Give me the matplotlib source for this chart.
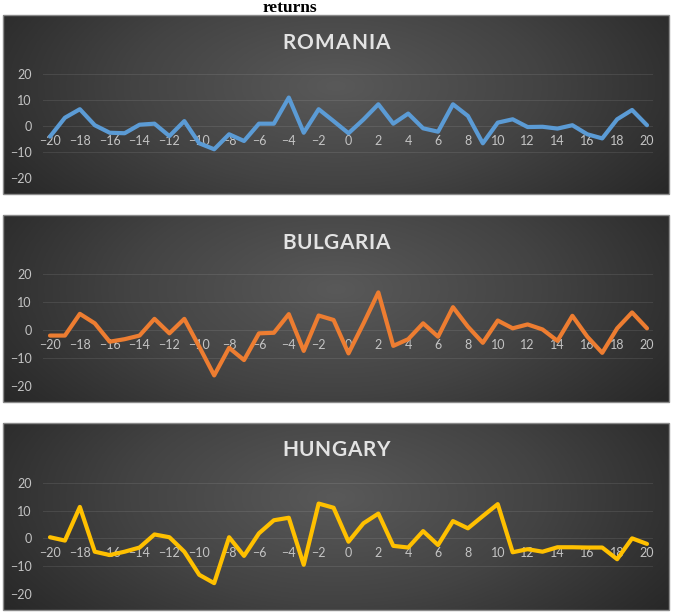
import numpy as np
import matplotlib.pyplot as plt
from matplotlib.colors import LinearSegmentedColormap
from matplotlib.patches import Rectangle

# ---------------- data ----------------
x_vals = list(range(-20, 21))
romania = [-4.1, 3.2, 6.5, 0.3, -2.6, -2.8, 0.5, 0.9, -3.9, 1.9,
           -6.7, -9.0, -3.2, -5.8, 0.9, 0.9, 11.0, -2.6, 6.5, 1.9,
           -2.8, 2.5, 8.4, 0.9, 4.8, -0.9, -2.2, 8.4, 3.9, -6.7,
           1.3, 2.6, -0.4, -0.3, -1.0, 0.3, -3.2, -4.8, 2.6, 6.2, 0.3]
bulgaria = [-2.0, -2.0, 5.8, 2.4, -4.2, -3.3, -2.0, 4.0, -1.2, 4.0,
            -6.0, -16.3, -6.4, -10.8, -1.2, -1.0, 5.7, -7.5, 5.2, 3.6,
            -8.4, 2.3, 13.5, -5.7, -3.3, 2.4, -2.4, 8.2, 1.2, -4.6,
            3.4, 0.6, 2.0, 0.2, -3.9, 5.1, -2.4, -8.2, 0.6, 6.3, 0.6]
hungary = [0.4, -0.8, 11.3, -4.8, -6.0, -4.8, -3.3, 1.4, 0.4, -4.8,
           -13.1, -16.1, 0.4, -6.3, 1.8, 6.5, 7.4, -9.5, 12.5, 11.0,
           -1.2, 5.4, 8.9, -2.7, -3.3, 2.6, -2.4, 6.2, 3.6, 8.0,
           12.3, -5.0, -3.9, -4.8, -3.2, -3.2, -3.3, -3.3, -7.5, 0.0, -2.0]
series = [romania, bulgaria, hungary]
titles = ['ROMANIA', 'BULGARIA', 'HUNGARY']
line_colors = ['#5B9BD5', '#ED7D31', '#FFC000']
xticks = list(range(-20, 21, 2))
yticks = [-20, -10, 0, 10, 20]
main_title = 'returns'

# ---------------- layout (pixels) ----------------
W, H = 674, 614
fig = plt.figure(figsize=(W / 100, H / 100), dpi=100)
fig.patch.set_facecolor('white')


def fx(px):
    return px / W


def fy(py):
    return 1 - py / H


# panel top, panel bottom, plot top, plot bottom, title centre y
panels = [(15, 194, 74.3, 177.7, 43.0),
          (215, 402, 274.3, 385.7, 243.0),
          (423, 610, 482.7, 594.0, 450.0)]
pan_left, pan_right = 3, 669
plot_left, plot_right = 43, 653
x_first_px, x_last_px = 50, 647

cmap = LinearSegmentedColormap.from_list('bg', ['#595959', '#434343', '#262626'])

for i, (ptop, pbot, gtop, gbot, ty) in enumerate(panels):
    # background with radial gradient
    bg = fig.add_axes([fx(pan_left), fy(pbot), (pan_right - pan_left) / W, (pbot - ptop) / H])
    bg.set_zorder(0)
    ny, nx = 200, 600
    yy, xx = np.mgrid[0:1:ny * 1j, 0:1:nx * 1j]
    r = np.sqrt(((xx - 0.5) / 0.62) ** 2 + ((yy - 0.6) / 1.1) ** 2)
    r = np.clip(r, 0, 1)
    bg.imshow(r, cmap=cmap, extent=[0, 1, 0, 1], aspect='auto', origin='lower',
              vmin=0, vmax=1, interpolation='bilinear')
    bg.add_patch(Rectangle((0, 0), 1, 1, transform=bg.transAxes, fill=False,
                           edgecolor='#8a8a8a', linewidth=1.0, clip_on=False))
    bg.set_xlim(0, 1)
    bg.set_ylim(0, 1)
    bg.axis('off')

    # plot axes
    ax = fig.add_axes([fx(plot_left), fy(gbot), (plot_right - plot_left) / W, (gbot - gtop) / H])
    ax.set_zorder(1)
    ax.patch.set_alpha(0)
    scale = (x_last_px - x_first_px) / 40.0
    ax.set_xlim(-20 - (x_first_px - plot_left) / scale, 20 + (plot_right - x_last_px) / scale)
    ax.set_ylim(-20, 20)
    ax.set_yticks(yticks)
    ax.set_xticks(xticks)
    ax.grid(axis='y', color='#ffffff', alpha=0.09, linewidth=0.8)
    ax.set_axisbelow(True)
    for s in ['top', 'right', 'left']:
        ax.spines[s].set_visible(False)
    ax.spines['bottom'].set_position(('data', 0))
    ax.spines['bottom'].set_color('none')
    ax.tick_params(axis='both', length=0, labelsize=9, labelcolor='#c4c4c4')
    ax.tick_params(axis='y', pad=8)
    ax.tick_params(axis='x', pad=6.5)
    for lab in ax.get_xticklabels() + ax.get_yticklabels():
        lab.set_family(['Lato', 'DejaVu Sans'])
    ax.plot(x_vals, series[i], color=line_colors[i], linewidth=3.0,
            solid_joinstyle='round', solid_capstyle='round', zorder=3, clip_on=False)

    # spaced title
    renderer = fig.canvas.get_renderer()
    kw = dict(fontsize=15, fontweight='bold', color='#e3e3e3', family=['Lato', 'DejaVu Sans'])
    widths = []
    for ch in titles[i]:
        t = fig.text(0, 0, ch, **kw)
        widths.append(t.get_window_extent(renderer).width)
        t.remove()
    target = 108.0
    gap = max(0.0, (target - sum(widths)) / (len(widths) - 1))
    total = sum(widths) + gap * (len(widths) - 1)
    xpos = 336 - total / 2
    for ch, w in zip(titles[i], widths):
        fig.text(fx(xpos), fy(ty), ch, ha='left', va='center', **kw)
        xpos += w + gap

fig.text(fx(290), fy(12), main_title, ha='center', va='baseline', fontsize=12.5,
         fontweight='bold', family=['Liberation Serif', 'DejaVu Serif'], color='black')

fig.savefig('out.png', dpi=100, facecolor='white')
